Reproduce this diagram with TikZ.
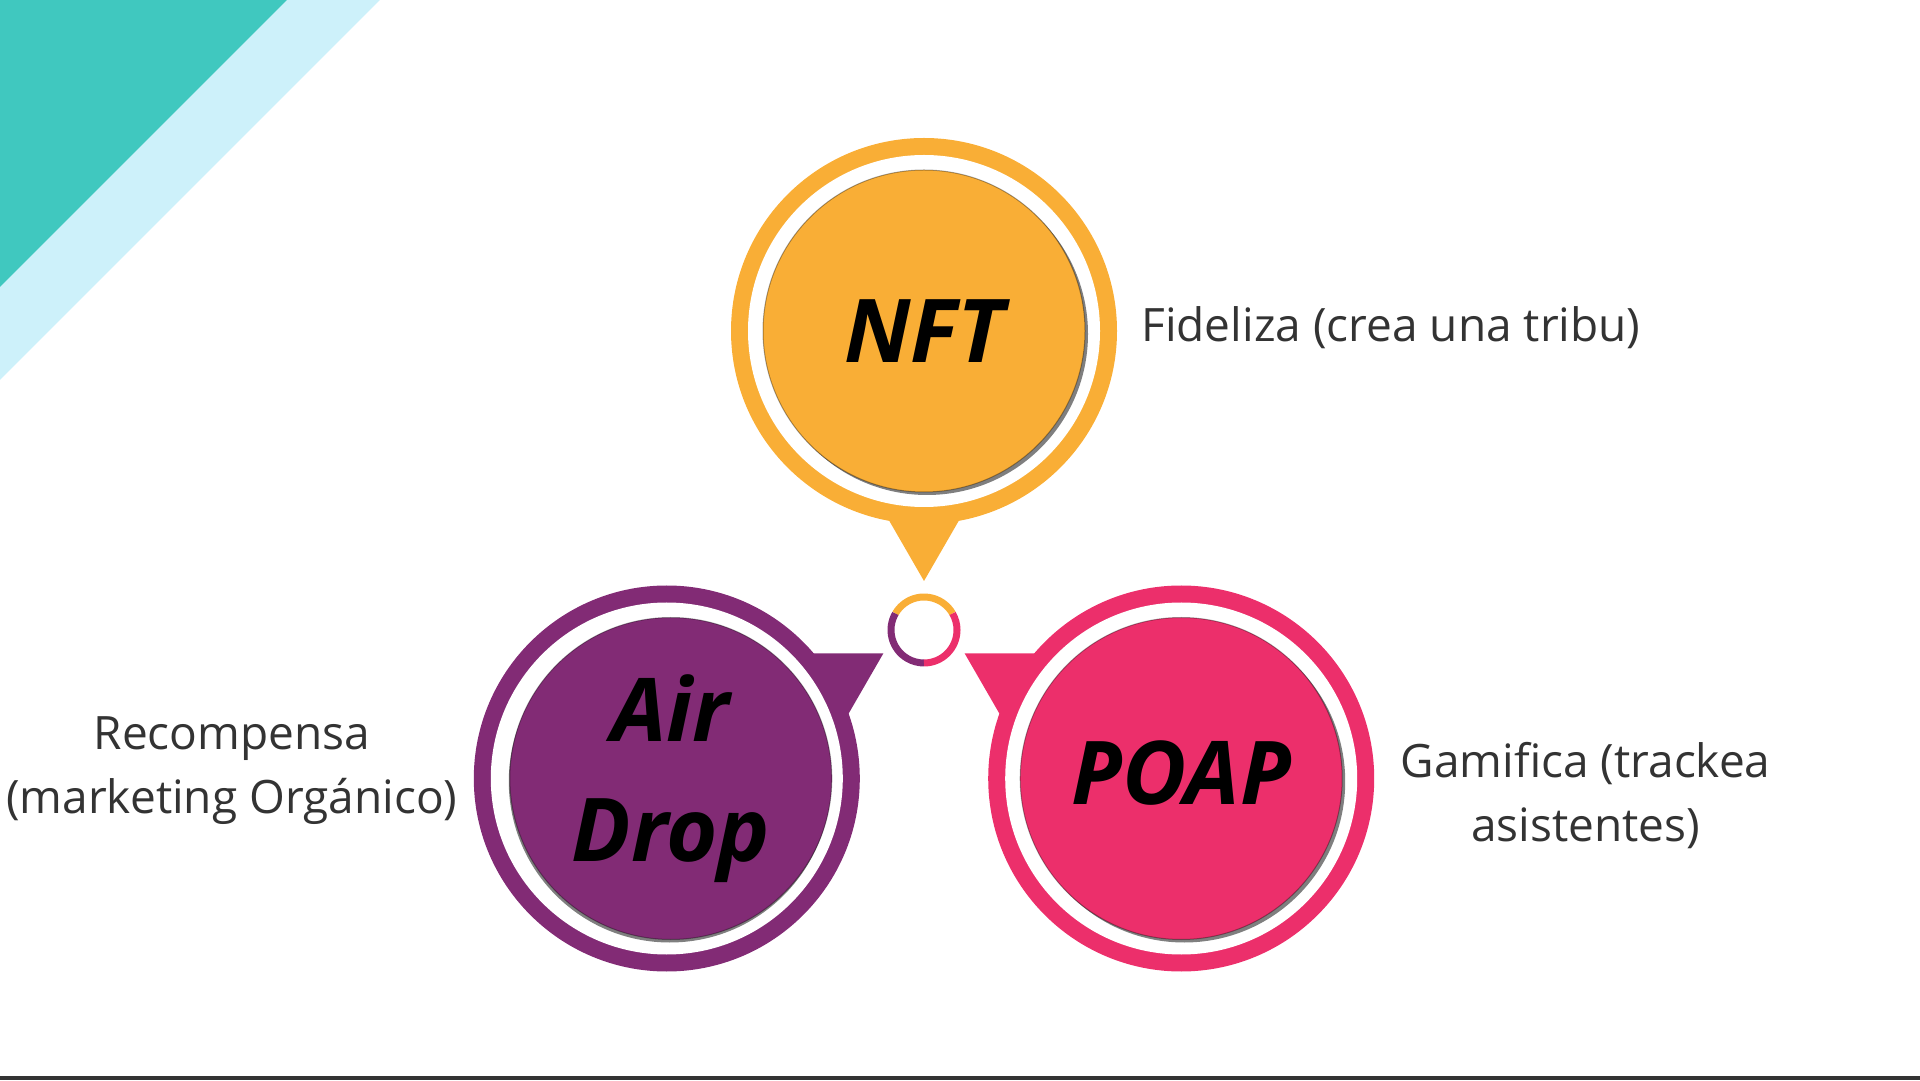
\documentclass[tikz,border=0pt]{standalone}
\usepackage{fontspec}
\setmainfont{Open Sans}
\usetikzlibrary{positioning}

\definecolor{nftc}{HTML}{F9AE36}
\definecolor{airc}{HTML}{822B75}
\definecolor{poapc}{HTML}{EC2F6B}
\definecolor{tealc}{HTML}{40C8BF}
\definecolor{skyc}{HTML}{CDF1FA}
\definecolor{txtc}{HTML}{333333}
\definecolor{barc}{HTML}{333333}

\begin{document}
\begin{tikzpicture}[x=1pt, y=1pt,
  node distance=22pt,
  ring/.style={circle, fill=#1, minimum size=386pt, inner sep=0pt},
  halo/.style={circle, fill=white, minimum size=352pt, inner sep=0pt},
  core/.style={circle, fill=#1, minimum size=322pt, inner sep=0pt,
               draw=black, draw opacity=.35, line width=1pt, align=center,
               font=\bfseries\itshape\fontsize{88}{120}\selectfont, text=black},
  shade/.style={fill=black, opacity=.5},
  note/.style={font=\fontsize{46}{64}\selectfont, text=txtc, align=center, inner sep=2pt},
  hubarc/.style={line width=7pt, draw=#1}]
\useasboundingbox (0,0) rectangle (1920,1080);
% corner stripes and bottom rule
\fill[skyc] (0,1080) -- (380,1080) -- (0,700) -- cycle;
\fill[tealc] (0,1080) -- (287,1080) -- (0,793) -- cycle;
\fill[barc] (0,0) rectangle (1920,4);

\coordinate (hub) at (924,450);
\coordinate (cN) at ([shift={(90:299pt)}]hub);
\coordinate (cA) at ([shift={(210:297pt)}]hub);
\coordinate (cP) at ([shift={(330:297pt)}]hub);
\coordinate (tN) at ([shift={(-90:250pt)}]cN);
\coordinate (tA) at ([shift={(30:250pt)}]cA);
\coordinate (tP) at ([shift={(150:250pt)}]cP);

% NFT bubble
\node[ring=nftc] (nftring) at (cN) {};
\fill[nftc] (tN) -- ([shift={(60:100pt)}]tN) -- ([shift={(120:100pt)}]tN) -- cycle;
\node[halo] (nfthalo) at (cN) {};
\fill[shade] ([shift={(3pt,-3pt)}]cN) circle (161pt);
\node[core=nftc] (nft) at (cN) {NFT};

% Air Drop bubble
\node[ring=airc] (airring) at (cA) {};
\fill[airc] (tA) -- ([shift={(180:100pt)}]tA) -- ([shift={(240:100pt)}]tA) -- cycle;
\node[halo] (airhalo) at (cA) {};
\fill[shade] ([shift={(3pt,-3pt)}]cA) circle (161pt);
\node[core=airc] (air) at ([xshift=4pt]cA) {Air\\Drop};

% POAP bubble
\node[ring=poapc] (poapring) at (cP) {};
\fill[poapc] (tP) -- ([shift={(300:100pt)}]tP) -- ([shift={(0:100pt)}]tP) -- cycle;
\node[halo] (poaphalo) at (cP) {};
\fill[shade] ([shift={(3pt,-3pt)}]cP) circle (161pt);
\node[core=poapc] (poap) at (cP) {\raisebox{12pt}{POAP}};

% small ring in the middle
\draw[hubarc=nftc] ([shift={(30:33pt)}]hub) arc[start angle=30, end angle=150, radius=33pt];
\draw[hubarc=airc] ([shift={(150:33pt)}]hub) arc[start angle=150, end angle=270, radius=33pt];
\draw[hubarc=poapc] ([shift={(270:33pt)}]hub) arc[start angle=270, end angle=390, radius=33pt];

% captions
\node[note, right=22pt of nftring, yshift=3pt] (fid) {Fideliza (crea una tribu)};
\node[note, left=14pt of airring, yshift=8pt] (rec) {Recompensa\\(marketing Orgánico)};
\node[note, right=24pt of poapring, yshift=-17pt] (gam) {Gamifica (trackea\\asistentes)};
\end{tikzpicture}
\end{document}
